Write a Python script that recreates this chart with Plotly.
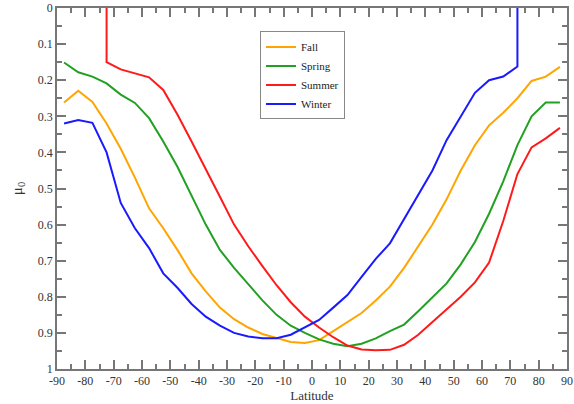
import plotly.graph_objects as go

lat = [-87.5, -82.5, -77.5, -72.5, -67.5, -62.5, -57.5, -52.5, -47.5, -42.5, -37.5, -32.5,
       -27.5, -22.5, -17.5, -12.5, -7.5, -2.5, 2.5, 7.5, 12.5, 17.5, 22.5, 27.5, 32.5,
       37.5, 42.5, 47.5, 52.5, 57.5, 62.5, 67.5, 72.5, 77.5, 82.5, 87.5]

fall = [0.262, 0.229, 0.26, 0.32, 0.39, 0.47, 0.555, 0.61, 0.67, 0.735, 0.785, 0.83,
        0.862, 0.885, 0.903, 0.915, 0.925, 0.928, 0.92, 0.895, 0.87, 0.845, 0.81, 0.772,
        0.72, 0.66, 0.6, 0.53, 0.45, 0.38, 0.325, 0.29, 0.25, 0.202, 0.19, 0.163]

spring = [0.151, 0.178, 0.19, 0.209, 0.24, 0.263, 0.305, 0.37, 0.44, 0.52, 0.6, 0.67,
          0.72, 0.765, 0.81, 0.85, 0.88, 0.9, 0.918, 0.93, 0.937, 0.93, 0.915, 0.895,
          0.877, 0.84, 0.8, 0.763, 0.71, 0.648, 0.57, 0.48, 0.38, 0.3, 0.262, 0.262]

summer_lat = [-72.5, -72.5, -67.5, -62.5, -57.5, -52.5, -47.5, -42.5, -37.5, -32.5,
              -27.5, -22.5, -17.5, -12.5, -7.5, -2.5, 2.5, 7.5, 12.5, 17.5, 22.5, 27.5, 32.5,
              37.5, 42.5, 47.5, 52.5, 57.5, 62.5, 67.5, 72.5, 77.5, 82.5, 87.5]
summer = [0.0, 0.15, 0.17, 0.182, 0.192, 0.227, 0.295, 0.37, 0.445, 0.523,
          0.6, 0.66, 0.715, 0.768, 0.815, 0.855, 0.885, 0.912, 0.935, 0.946, 0.948, 0.947,
          0.933, 0.905, 0.87, 0.835, 0.8, 0.76, 0.705, 0.59, 0.46, 0.386, 0.361, 0.332]

winter_lat = [-87.5, -82.5, -77.5, -72.5, -67.5, -62.5, -57.5, -52.5, -47.5, -42.5, -37.5,
              -32.5, -27.5, -22.5, -17.5, -12.5, -7.5, -2.5, 2.5, 7.5, 12.5, 17.5, 22.5,
              27.5, 32.5, 37.5, 42.5, 47.5, 52.5, 57.5, 62.5, 67.5, 72.5, 72.5]
winter = [0.32, 0.31, 0.318, 0.4, 0.54, 0.61, 0.665, 0.735, 0.775, 0.82, 0.855,
          0.88, 0.9, 0.91, 0.915, 0.915, 0.905, 0.885, 0.864, 0.83, 0.795, 0.745, 0.695,
          0.652, 0.585, 0.52, 0.45, 0.366, 0.3, 0.235, 0.2, 0.19, 0.162, 0.0]

x_ticks = list(range(-90, 91, 10))

fig = go.Figure()
fig.add_trace(go.Scatter(x=lat, y=fall, mode="lines", name="Fall",
                         line=dict(color="#ffa500", width=2)))
fig.add_trace(go.Scatter(x=lat, y=spring, mode="lines", name="Spring",
                         line=dict(color="#22a022", width=2)))
fig.add_trace(go.Scatter(x=summer_lat, y=summer, mode="lines", name="Summer",
                         line=dict(color="#ff1a1a", width=2)))
fig.add_trace(go.Scatter(x=winter_lat, y=winter, mode="lines", name="Winter",
                         line=dict(color="#1a1aff", width=2)))

axis_common = dict(showline=True, linecolor="#777777", linewidth=1.5, mirror="ticks",
                   ticks="inside", ticklen=9, tickcolor="#777777", tickwidth=1.5,
                   showgrid=False, zeroline=False, automargin=False,
                   tickfont=dict(family="Liberation Serif", size=12, color="#333333"))

fig.update_layout(
    width=574, height=404,
    margin=dict(l=57, r=7, t=8, b=35),
    paper_bgcolor="white", plot_bgcolor="white",
    font=dict(family="Liberation Serif", size=12, color="#333333"),
    showlegend=True,
    legend=dict(x=0.398, y=0.935, xanchor="left", yanchor="top",
                bordercolor="#888888", borderwidth=1, bgcolor="white",
                font=dict(family="Liberation Serif", size=11, color="#222222"),
                tracegroupgap=0, itemwidth=30),
    xaxis=dict(range=[-90, 90], tickvals=x_ticks, ticktext=[str(v) for v in x_ticks],
               minor=dict(ticks="inside", ticklen=5, dtick=5, tickcolor="#777777", tickwidth=1.5),
               title=dict(text="Latitude", standoff=0,
                          font=dict(family="Liberation Serif", size=13, color="#333333")),
               **axis_common),
    yaxis=dict(range=[1, 0], dtick=0.1, tick0=0,
               minor=dict(ticks="inside", ticklen=5, dtick=0.05, tickcolor="#777777", tickwidth=1.5),
               title=dict(text="μ<sub>0</sub>", standoff=12,
                          font=dict(family="Liberation Serif", size=15, color="#333333")),
               **axis_common),
)

fig.write_html("out.html", config={"displayModeBar": False},
               post_script="document.body.style.margin='0';document.body.style.overflow='hidden';")
